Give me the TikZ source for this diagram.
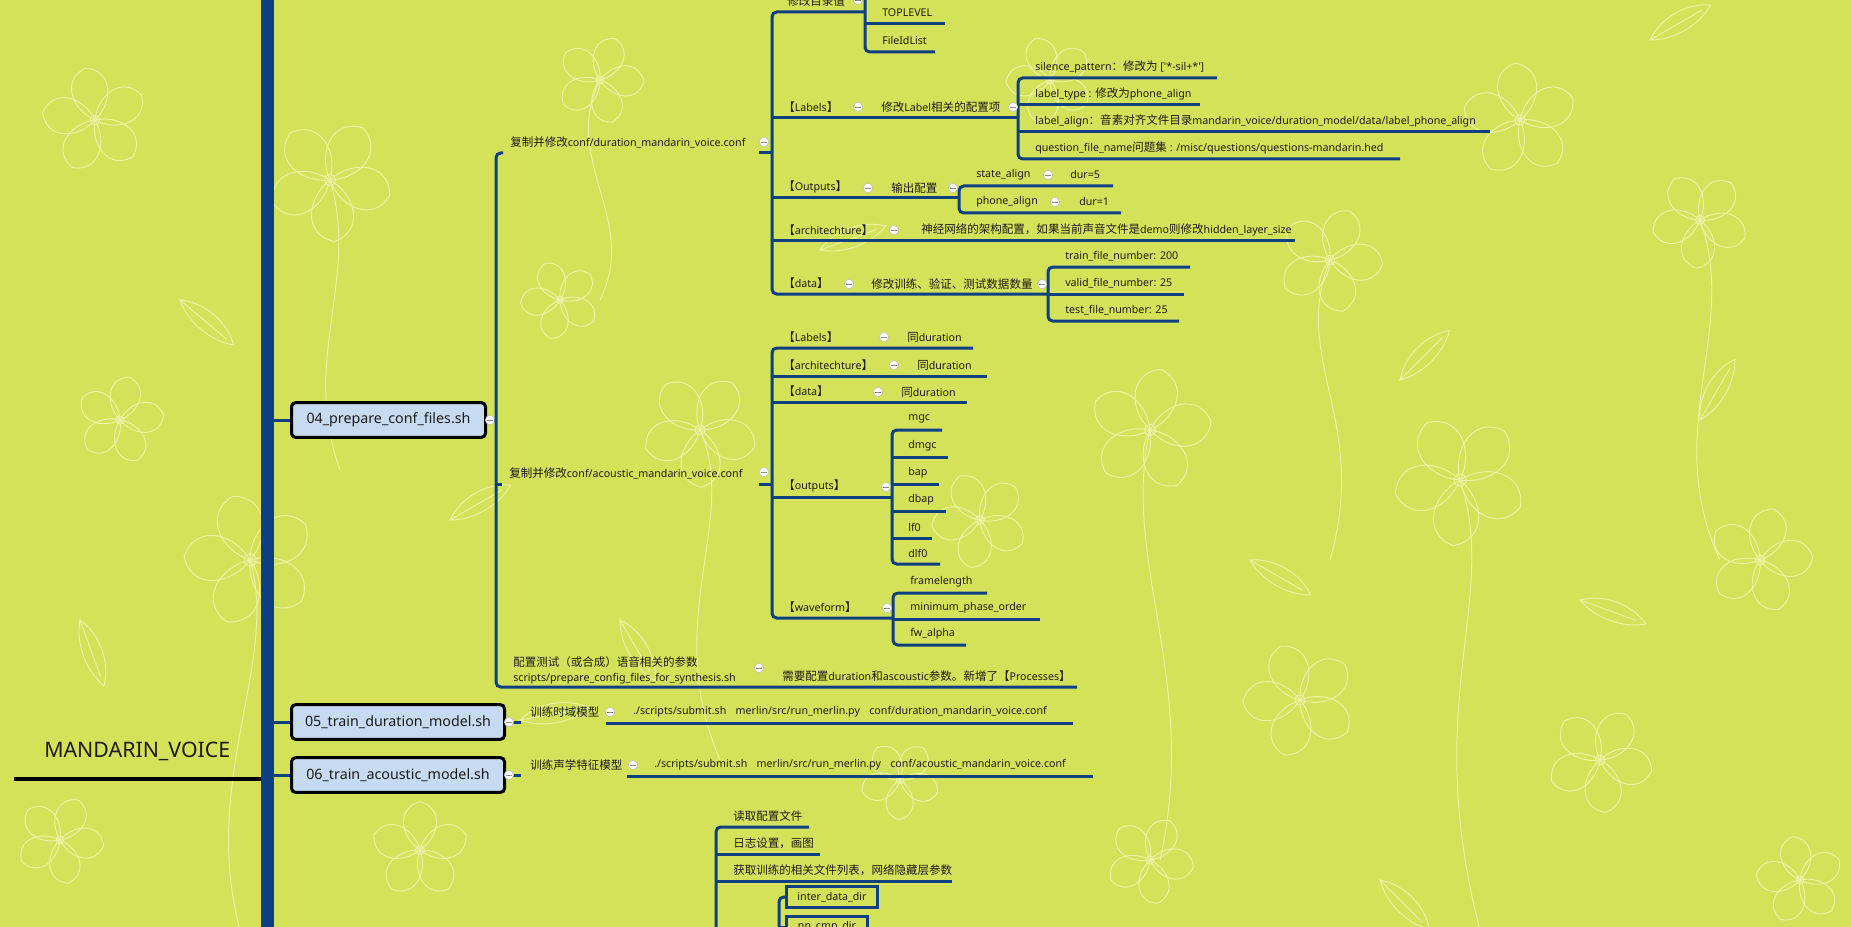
\documentclass[tikz,border=0pt]{standalone}
\usepackage{fontspec}
\setmainfont{Noto Sans}
\newfontfamily\cjk[Scale=1.08]{Noto Sans CJK SC}
\newcommand\zh[1]{{\cjk #1}}

\definecolor{bgl}{RGB}{212,226,90}
\definecolor{lineblue}{RGB}{12,64,130}
\definecolor{boxblue}{RGB}{198,218,241}
\definecolor{ink}{RGB}{28,28,24}
\definecolor{petal}{RGB}{236,243,168}

% topic: name, line start x, line end x, line y, text x, text
\newcommand\tp[6]{%
  \coordinate (#1-s) at (#2,#4);
  \coordinate (#1-e) at (#3,#4);
  \node[lbl] (#1) at (#5,#4-11) {#6};}
% bracket joining the first and the last child of a group
\newcommand\brk[2]{\draw[conn] (#1-e) -- (#1-s) -- (#2-s) -- (#2-e);}
\newcommand\seg[1]{\draw[conn] (#1-s) -- (#1-e);}
% collapse marker
\newcommand\fold[3]{\node[foldmark] (#1) at (#2,#3) {};}

\tikzset{
  conn/.style={draw=lineblue, line width=2.25pt, rounded corners=3.5pt},
  lbl/.style={font=\fontsize{8}{9.6}\selectfont, text=ink, inner sep=0pt, anchor=west},
  foldmark/.style={circle, draw=black!25, line width=0.4pt, fill=white, minimum size=7pt, inner sep=0pt,
    path picture={\draw[black!45, line width=0.7pt]
      ([xshift=-2pt]path picture bounding box.center) -- ([xshift=2pt]path picture bounding box.center);}},
  stage/.style={draw=black, line width=2.25pt, fill=boxblue, rounded corners=3pt, minimum height=26pt,
    inner sep=0pt, anchor=west, font=\fontsize{10.7}{12}\selectfont, text=ink},
  dirbox/.style={draw=lineblue, line width=2.25pt, minimum height=15.75pt, inner sep=0pt, anchor=west,
    font=\fontsize{8}{9.6}\selectfont, text=ink},
  floral/.style={draw=petal, line width=0.7pt},
  flower/.pic={
    \foreach \a in {0,72,144,216,288}
      \draw[floral, rotate=\a] (0,0) .. controls (18,-12) and (22,-38) .. (0,-44)
                                     .. controls (-22,-38) and (-18,-12) .. (0,0);
    \draw[floral] (0,0) circle (4);},
  leaf/.pic={
    \draw[floral] (0,0) .. controls (20,-14) and (50,-14) .. (70,0)
                        .. controls (50,12) and (20,12) .. (0,0) -- (60,0);},
}

\begin{document}
\begin{tikzpicture}[x=0.75pt, y=-0.75pt]
\fill[bgl] (0,0) rectangle (1851,927);
\useasboundingbox (0,0) rectangle (1851,927);
\clip (0,0) rectangle (1851,927);

% ---------- line-art backdrop ----------
\foreach \x/\y/\s/\r in {95/120/1.2/10, 330/180/1.4/40, 600/80/1.0/-20, 250/560/1.5/15,
    120/420/1.0/60, 700/430/1.3/-35, 980/520/1.1/25, 1150/430/1.4/-10, 1330/260/1.2/50,
    1520/120/1.3/5, 1700/220/1.1/-40, 1460/480/1.5/30, 1760/560/1.2/-15, 1300/700/1.3/20,
    1600/760/1.2/-30, 1150/860/1.0/45, 420/850/1.1/0, 60/840/1.0/-25, 900/780/0.9/35,
    1800/880/1.0/10, 560/300/0.9/-50, 1050/80/1.0/20}
  \pic[rotate=\r, scale=\s] at (\x,\y) {flower};
\foreach \x/\y/\r in {180/300/-40, 450/520/30, 620/620/-60, 820/250/20, 1250/560/-30,
    1400/380/45, 1580/600/-20, 1700/420/60, 1380/880/-45, 520/720/10, 80/620/-70, 1650/40/30}
  \pic[rotate=\r] at (\x,\y) {leaf};
\draw[floral] (250,560) .. controls (280,660) and (200,780) .. (240,930);
\draw[floral] (700,430) .. controls (740,520) and (660,620) .. (720,760);
\draw[floral] (1150,430) .. controls (1120,560) and (1200,680) .. (1160,860);
\draw[floral] (1460,480) .. controls (1500,600) and (1420,700) .. (1480,930);
\draw[floral] (330,180) .. controls (360,280) and (300,360) .. (340,470);
\draw[floral] (1330,260) .. controls (1290,360) and (1370,420) .. (1330,560);
\draw[floral] (1700,220) .. controls (1740,330) and (1660,430) .. (1720,560);
\draw[floral] (600,80) .. controls (560,160) and (640,220) .. (600,300);

% ---------- spine and root ----------
\node[fill=lineblue, minimum width=9.75pt, minimum height=720pt, inner sep=0pt, anchor=north] (bar) at (267.5,-10) {};
\node[font=\fontsize{16}{19}\selectfont, text=ink, anchor=west, inner sep=0pt] (root) at (44,751) {MANDARIN\_VOICE};
\coordinate (rootL) at (14,779);
\draw[black, line width=2.6pt] (rootL) -- (bar.west |- rootL);

% ---------- stage boxes ----------
\node[stage, minimum width=145.5pt] (s04) at (290,420) {04\_prepare\_conf\_files.sh};
\node[stage, minimum width=159.75pt] (s05) at (290,722) {05\_train\_duration\_model.sh};
\node[stage, minimum width=159.75pt] (s06) at (290,775) {06\_train\_acoustic\_model.sh};
\draw[conn] (bar.east |- s04.west) -- (s04.west);
\draw[conn] (bar.east |- s05.west) -- (s05.west);
\draw[conn] (bar.east |- s06.west) -- (s06.west);

% ---------- 04: children ----------
\coordinate (A0) at (496,420);
\draw[conn] (s04.east) -- (A0);
\fold{f04}{490}{420}

\node[lbl] (A1) at (510,142) {\zh{复制并修改}conf/duration\_mandarin\_voice.conf};
\fold{fA1}{764}{142}
\coordinate (A1-s) at (496,153); \coordinate (A1-e) at (503,153);
\coordinate (A1r-s) at (759,153); \coordinate (A1r-e) at (772,153);

\node[lbl] (A2) at (509,473) {\zh{复制并修改}conf/acoustic\_mandarin\_voice.conf};
\fold{fA2}{764}{472}
\coordinate (A2-s) at (496,484); \coordinate (A2-e) at (502,484);
\coordinate (A2r-s) at (759,484); \coordinate (A2r-e) at (772,484);

\coordinate (A3-s) at (496,687); \coordinate (A3-e) at (1077,687);
\node[lbl, align=left, font=\fontsize{8}{11.25}\selectfont] (A3) at (513,670)
  {\zh{配置测试（或合成）语音相关的参数}\\scripts/prepare\_config\_files\_for\_synthesis.sh};
\fold{fA3}{759}{668}
\node[lbl] (A3x) at (782,676) {\zh{需要配置}duration\zh{和}ascoustic\zh{参数。新增了【}Processes\zh{】}};

\draw[conn] (A1-e) -- (A1-s) -- (A3-s) -- (A3-e);
\seg{A2} \seg{A1r} \seg{A2r}

% ---------- duration conf ----------
\tp{B1}{772}{865}{12}{787}{\zh{修改目录值}}
\fold{fB1}{858}{0}
\coordinate (Ctop) at (865,-12);
\tp{C1}{865}{945}{24}{882}{TOPLEVEL}
\tp{C2}{865}{935}{52}{882}{FileIdList}
\draw[conn] (Ctop) -- (C2-s) -- (C2-e);
\seg{C1}

\tp{B2}{772}{1018}{118}{783}{\zh{【}Labels\zh{】}}
\fold{fB2a}{858}{107}
\node[lbl] (B2x) at (881,107) {\zh{修改}Label\zh{相关的配置项}};
\tp{D1}{1018}{1217}{78}{1035}{silence\_pattern\zh{：修改为} [\textquotesingle*-sil+*\textquotesingle]}
\tp{D2}{1018}{1200}{105}{1035}{label\_type : \zh{修改为}phone\_align}
\tp{D3}{1018}{1490}{132}{1035}{label\_align\zh{：音素对齐文件目录}mandarin\_voice/duration\_model/data/label\_phone\_align}
\tp{D4}{1018}{1400}{159}{1035}{question\_file\_name\zh{问题集} : /misc/questions/questions-mandarin.hed}
\brk{D1}{D4} \seg{D2} \seg{D3}
\fold{fB2b}{1013}{107}

\tp{B3}{772}{959}{198}{783}{\zh{【}Outputs\zh{】}}
\fold{fB3a}{868}{188}
\node[lbl] (B3x) at (891,188) {\zh{输出配置}};
\tp{E1}{959}{1113}{186}{976}{state\_align}
\node[lbl] (E1x) at (1070,175) {dur=5};
\tp{E2}{959}{1121}{213}{976}{phone\_align}
\node[lbl] (E2x) at (1079,202) {dur=1};
\brk{E1}{E2}
\fold{fE1}{1048}{175}
\fold{fE2}{1055}{202}
\fold{fB3b}{953}{188}

\tp{B4}{772}{1295}{241}{783}{\zh{【}architechture\zh{】}}
\fold{fB4}{894}{230}
\node[lbl] (B4x) at (921,230) {\zh{神经网络的架构配置，如果当前声音文件是}demo\zh{则修改}hidden\_layer\_size};

\tp{B5}{772}{1048}{294}{783}{\zh{【}data\zh{】}}
\fold{fB5a}{849}{284}
\node[lbl] (B5x) at (871,284) {\zh{修改训练、验证、测试数据数量}};
\tp{F1}{1048}{1190}{267}{1065}{train\_file\_number: 200}
\tp{F2}{1048}{1184}{294}{1065}{valid\_file\_number: 25}
\tp{F3}{1048}{1179}{321}{1065}{test\_file\_number: 25}
\brk{F1}{F3} \seg{F2}
\fold{fB5b}{1042}{284}

\brk{B1}{B5} \seg{B2} \seg{B3} \seg{B4}

% ---------- acoustic conf ----------
\tp{G1}{772}{973}{348}{783}{\zh{【}Labels\zh{】}}
\node[lbl] (G1x) at (907,337) {\zh{同}duration};
\tp{G2}{772}{987}{376}{783}{\zh{【}architechture\zh{】}}
\node[lbl] (G2x) at (917,365) {\zh{同}duration};
\tp{G3}{772}{967}{402}{783}{\zh{【}data\zh{】}}
\node[lbl] (G3x) at (901,392) {\zh{同}duration};
\tp{G4}{772}{892}{497}{783}{\zh{【}outputs\zh{】}}
\tp{G5}{772}{893}{618}{783}{\zh{【}waveform\zh{】}}
\brk{G1}{G5} \seg{G2} \seg{G3} \seg{G4}
\fold{fG1}{884}{337}
\fold{fG2}{894}{365}
\fold{fG3}{878}{392}

\tp{H1}{892}{942}{430}{908}{mgc}
\tp{H2}{892}{948}{457}{908}{dmgc}
\tp{H3}{892}{939}{484}{908}{bap}
\tp{H4}{892}{946}{511}{908}{dbap}
\tp{H5}{892}{932}{538}{908}{lf0}
\tp{H6}{892}{940}{564}{908}{dlf0}
\brk{H1}{H6} \seg{H2} \seg{H3} \seg{H4} \seg{H5}
\fold{fG4}{886}{487}

\tp{I1}{893}{987}{593}{910}{framelength}
\tp{I2}{893}{1040}{619}{910}{minimum\_phase\_order}
\tp{I3}{893}{966}{645}{910}{fw\_alpha}
\brk{I1}{I3} \seg{I2}
\fold{fG5}{887}{608}

% ---------- 05 / 06 ----------
\coordinate (s05o) at (521,722);
\draw[conn] (s05.east) -- (s05o);
\fold{f05}{509}{722}
\node[lbl] (T05) at (530,712) {\zh{训练时域模型}};
\tp{C05}{606}{1073}{723}{633}{./scripts/submit.sh\hspace{7pt}merlin/src/run\_merlin.py\hspace{7pt}conf/duration\_mandarin\_voice.conf}
\seg{C05}
\fold{fT05}{610}{712}

\coordinate (s06o) at (521,775);
\draw[conn] (s06.east) -- (s06o);
\fold{f06}{509}{775}
\node[lbl] (T06) at (530,765) {\zh{训练声学特征模型}};
\tp{C06}{627}{1093}{776}{654}{./scripts/submit.sh\hspace{7pt}merlin/src/run\_merlin.py\hspace{7pt}conf/acoustic\_mandarin\_voice.conf}
\seg{C06}
\fold{fT06}{633}{765}

% ---------- training steps ----------
\tp{J1}{716}{809}{827}{733}{\zh{读取配置文件}}
\tp{J2}{716}{820}{854}{733}{\zh{日志设置，画图}}
\tp{J3}{716}{952}{881}{733}{\zh{获取训练的相关文件列表，网络隐藏层参数}}
\coordinate (Jbot) at (716,945);
\draw[conn] (J1-e) -- (J1-s) -- (Jbot);
\seg{J2} \seg{J3}

\node[dirbox, minimum width=68.25pt] (K1) at (785,897) {inter\_data\_dir};
\node[dirbox, minimum width=60.75pt] (K2) at (785,927) {nn\_cmp\_dir};
\coordinate (Kbot) at (779,945);
\draw[conn] (K1.west) -- (K1.west -| Kbot) -- (Kbot);
\draw[conn] (K2.west -| Kbot) -- (K2.west);
\end{tikzpicture}
\end{document}
